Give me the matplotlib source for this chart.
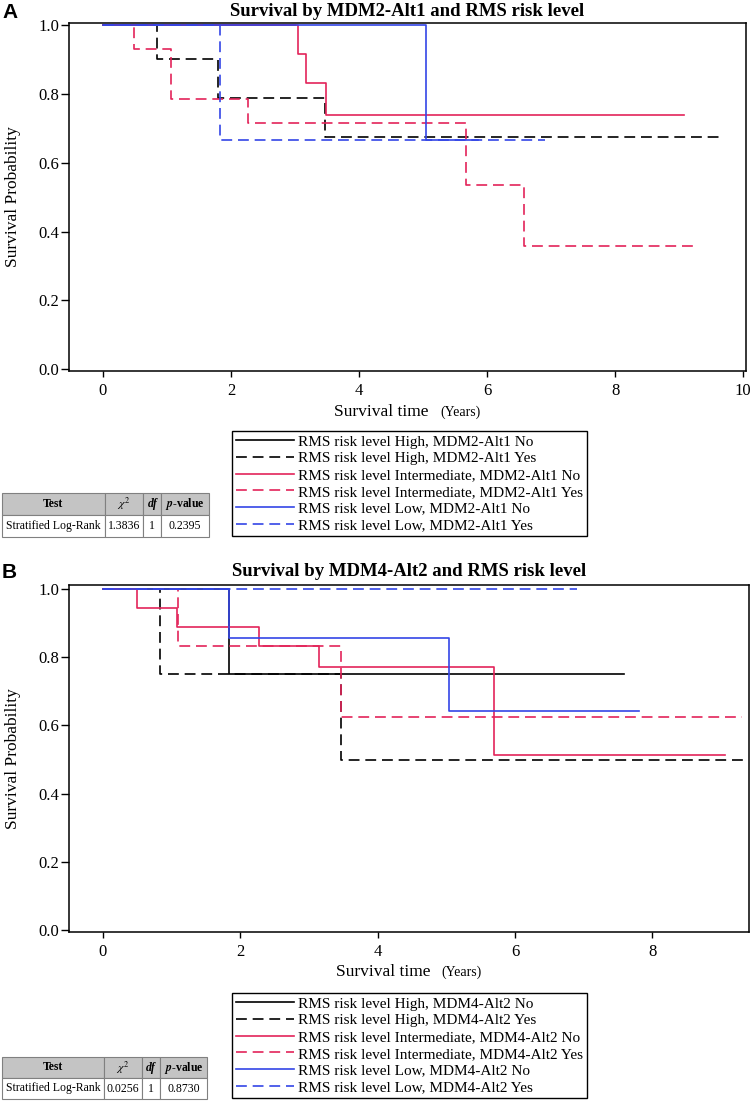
import matplotlib.pyplot as plt
from matplotlib.offsetbox import TextArea, HPacker, AnchoredOffsetbox

plt.rcParams['font.family'] = ['Liberation Serif', 'DejaVu Serif']
plt.rcParams['mathtext.fontset'] = 'stix'

W, H = 750, 1101

# ---- data ----
groups = ["High", "High", "Intermediate", "Intermediate", "Low", "Low"]
alt_status = ["No", "Yes", "No", "Yes", "No", "Yes"]

# panel A: MDM2-Alt1
a_drop_times = [[], [0.84, 1.80, 3.47], [3.04, 3.17, 3.48],
                [0.48, 1.07, 2.26, 5.67, 6.58], [5.04], [1.83]]
a_surv = [[], [0.90, 0.7875, 0.675], [0.917, 0.833, 0.74],
          [0.929, 0.786, 0.714, 0.536, 0.357], [0.667], [0.667]]
a_end = [3.0, 9.67, 9.07, 9.27, 5.86, 6.90]

# panel B: MDM4-Alt2
b_drop_times = [[1.84], [0.83, 3.47], [0.50, 1.08, 2.27, 3.15, 5.69],
                [1.09, 3.47], [1.84, 5.04], []]
b_surv = [[0.75], [0.75, 0.50], [0.944, 0.889, 0.833, 0.771, 0.514],
          [0.833, 0.625], [0.857, 0.643], []]
b_end = [7.59, 9.35, 9.06, 9.30, 7.81, 6.90]

a_test = ["Stratified Log-Rank", "1.3836", "1", "0.2395"]
b_test = ["Stratified Log-Rank", "0.0256", "1", "0.8730"]
test_header = ["Test", r"$\chi^2$", "df", r"$\mathbfit{p}$-value"]

colors = ["black", "black", "#e3245a", "#e3245a", "#3446e6", "#3446e6"]
dashed = [False, True, False, True, False, True]


def px_axes(fig, l, t, r, b):
    return fig.add_axes([l / W, 1 - b / H, (r - l) / W, (b - t) / H])


def draw_panel(fig, box, drops, surv, ends, gene, xlim, ylim, xticks,
               title_y, letter, letter_y, xlabel_y, leg_box, tab_box, test_row):
    ax = px_axes(fig, *box)
    handles = []
    for i in range(6):
        x = [0] + drops[i] + [ends[i]]
        y = [1.0] + surv[i] + [surv[i][-1] if surv[i] else 1.0]
        kw = dict(dashes=(6.5, 3.5)) if dashed[i] else {}
        ln, = ax.plot(x, y, drawstyle='steps-post', color=colors[i], lw=1.2,
                      label=f"RMS risk level {groups[i]}, {gene} {alt_status[i]}", **kw)
        handles.append(ln)
    ax.set_xlim(*xlim)
    ax.set_ylim(*ylim)
    ax.set_xticks(xticks)
    ax.set_yticks([0, 0.2, 0.4, 0.6, 0.8, 1.0])
    ax.set_yticklabels(["0.0", "0.2", "0.4", "0.6", "0.8", "1.0"])
    ax.tick_params(axis='x', length=4, width=1, pad=5, labelsize=12)
    ax.tick_params(axis='y', length=5.5, width=1, pad=1.5, labelsize=12)
    for s in ax.spines.values():
        s.set_linewidth(1.1)

    cx = (box[0] + box[2]) / 2 / W
    fig.text(cx, 1 - title_y / H, f"Survival by {gene} and RMS risk level",
             ha='center', va='center', fontsize=13.5, fontweight='bold')
    fig.text(2 / W, 1 - letter_y / H, letter, ha='left', va='top', fontsize=15,
             fontweight='bold', family='Liberation Sans')
    fig.text(13.5 / W, 1 - (box[1] + box[3]) / 2 / H, "Survival Probability",
             rotation=90, ha='center', va='center', fontsize=12.5)

    lab = HPacker(children=[TextArea("Survival time", textprops=dict(fontsize=12.5)),
                            TextArea("(Years)", textprops=dict(fontsize=10))],
                  align='baseline', pad=0, sep=8)
    ab = AnchoredOffsetbox(loc='center', child=lab, frameon=False, pad=0,
                           bbox_to_anchor=(cx, 1 - xlabel_y / H),
                           bbox_transform=fig.transFigure, borderpad=0)
    fig.add_artist(ab)

    leg = fig.legend(handles=handles, loc='upper left',
                     bbox_to_anchor=(leg_box[0] / W, 1 - leg_box[1] / H),
                     bbox_transform=fig.transFigure, frameon=True, fancybox=False,
                     edgecolor='black', framealpha=1, fontsize=11,
                     handlelength=3.8, handletextpad=0.3, labelspacing=0.2,
                     borderpad=0.25, borderaxespad=0)
    leg.get_frame().set_linewidth(1.0)

    tax = px_axes(fig, *tab_box)
    tax.axis('off')
    tb = tax.table(cellText=[test_row], colLabels=test_header,
                   colWidths=[103, 38.3, 18.4, 47.6], cellLoc='center',
                   bbox=[0, 0, 1, 1])
    tb.auto_set_font_size(False)
    tb.set_fontsize(8.5)
    for (r, c), cell in tb.get_celld().items():
        cell.set_edgecolor('#808080')
        cell.set_linewidth(0.8)
        if r == 0:
            cell.set_facecolor('#c4c4c4')
            cell.get_text().set_fontweight('bold')
            if c == 2:
                cell.get_text().set_fontstyle('italic')
    return ax


fig = plt.figure(figsize=(W / 100, H / 100), dpi=100)

draw_panel(fig, (69, 23.3, 745.7, 370.7), a_drop_times, a_surv, a_end, "MDM2-Alt1",
           (-0.531, 10.04), (-0.004, 1.005), [0, 2, 4, 6, 8, 10],
           11, "A", 3, 412, (232, 431), (2, 493, 209, 537), a_test)
draw_panel(fig, (69, 585, 748.6, 932), b_drop_times, b_surv, b_end, "MDM4-Alt2",
           (-0.49, 9.40), (-0.006, 1.012), [0, 2, 4, 6, 8],
           571, "B", 563, 972, (232, 993), (2, 1057, 207, 1099), b_test)

fig.savefig("out.png", dpi=100)
